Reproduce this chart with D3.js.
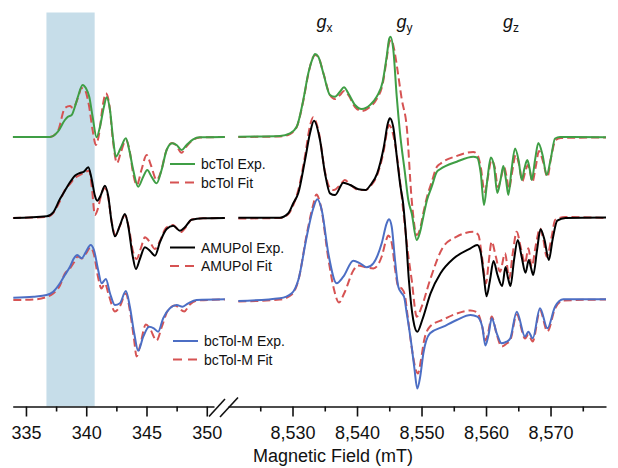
<!DOCTYPE html>
<html lang="en">
<head>
    <meta charset="UTF-8">
    <title>EPR spectra</title>
    <style>
        body { margin: 0; background: #fff; }
        svg text { font-family: Arial, 'Liberation Sans', sans-serif; fill: #111; }
    </style>
</head>
<body>

    <svg id="svg" width="618" height="468"></svg>

    <script src="https://d3js.org/d3.v7.min.js"></script>
    <script>
        // field (mT), intensity (a.u.) -- low field part (~340 mT)
        const greenExpL = [[333.92,0],[336.99,0],[337.65,5.3],[338.23,17],[338.48,20.3],[338.79,22],[339.06,30.3],[339.31,40.3],[339.70,52],[339.98,48.7],[340.25,40.3],[340.53,20.3],[340.86,-0.3],[341.14,10.3],[341.47,30.3],[341.69,39.7],[341.97,27],[342.24,-3],[342.46,-19.7],[342.85,-11.3],[343.29,-1.3],[343.57,-13],[343.90,-33],[344.31,-49.7],[344.73,-39.7],[345.06,-33],[345.42,-39.7],[345.84,-46.3],[346.25,-33],[346.67,-13],[347.13,-6.3],[347.50,-8],[347.91,-13],[348.33,-8],[348.87,-2.3],[349.43,-0.3],[351.5,0]]
        const greenFitL = [[333.92,0],[336.99,0],[337.65,6],[338.23,29],[338.65,31],[338.90,29],[339.31,39],[339.62,49],[339.89,47],[340.22,32],[340.53,7],[340.80,-8],[341.05,2],[341.38,32],[341.63,43.7],[341.92,32],[342.21,-3],[342.55,-26],[342.88,-15],[343.29,-3],[343.62,-15],[343.87,-35],[344.20,-48],[344.58,-33],[345.01,-18],[345.36,-28],[345.84,-43],[346.19,-35],[346.61,-15],[347.11,-6],[347.44,-8],[347.91,-15.7],[348.27,-10],[348.85,-3],[349.43,-0.5],[351.5,0]]
        const blackExpL = [[333.95,0],[336.72,1.7],[337.26,5.7],[337.82,19],[338.23,27.3],[338.65,35.7],[339.06,42.3],[339.48,45],[339.81,46.3],[340.17,50.7],[340.45,39],[340.72,22.3],[340.91,17.3],[341.19,22.3],[341.55,32.3],[341.82,22.3],[342.11,-4.3],[342.38,-18.3],[342.79,-7.7],[343.21,4],[343.48,-7.7],[343.85,-37.7],[344.12,-51],[344.45,-41],[344.87,-29.3],[345.28,-32.7],[345.70,-37.7],[346.11,-24.3],[346.67,-11],[347.21,-7.7],[347.77,-12.7],[348.18,-9.3],[348.74,-1.7],[349.70,-0.3],[351.5,0]]
        const blackFitL = [[333.92,0],[336.72,1],[337.26,5],[337.82,17],[338.23,28],[338.65,34],[339.06,40],[339.48,43],[339.89,46],[340.25,47.3],[340.47,30],[340.72,3],[340.93,8],[341.22,22],[341.51,30],[341.80,22],[342.13,-5],[342.42,-17],[342.79,-8],[343.21,3],[343.54,-10],[343.87,-33],[344.18,-41],[344.54,-30],[344.87,-19.3],[345.28,-24],[345.70,-31],[346.11,-23],[346.61,-10],[347.19,-7],[347.85,-14],[348.27,-9],[348.76,-1.5],[349.68,-0.3],[351.5,0]]
        const blueExpL = [[333.95,0.8],[335.61,1.8],[336.72,3.5],[337.26,6.8],[337.82,15.2],[338.23,23.5],[338.65,31.8],[338.98,40.2],[339.25,43.5],[339.62,40.2],[339.98,46.8],[340.36,53.5],[340.64,48.5],[340.99,28.5],[341.28,15.2],[341.63,19.5],[341.97,5.2],[342.38,-6.5],[342.79,-4.8],[343.29,7.5],[343.62,-8.2],[343.98,-34.8],[344.31,-52.2],[344.73,-38.2],[345.22,-28.2],[345.61,-29.8],[345.97,-33.2],[346.38,-19.8],[346.94,-9.8],[347.50,-6.5],[347.99,-8.2],[348.46,-4.8],[349.15,-1.5],[351.5,-0.8]]
        const blueFitL = [[333.95,-1.5],[335.61,-1],[336.72,1.5],[337.26,5],[337.82,13],[338.23,25],[338.65,30],[338.98,36],[339.31,42],[339.64,40],[339.98,45],[340.35,51],[340.64,44],[340.97,22],[341.26,10],[341.55,15],[341.88,3],[342.38,-13],[342.79,-8],[343.29,5],[343.62,-12],[343.96,-40],[344.18,-58],[344.45,-48],[344.95,-26],[345.28,-30],[345.84,-42],[346.28,-28],[346.77,-12],[347.35,-7],[348.13,-13],[348.60,-6],[349.26,-2],[351.5,-1]]

        // high field part (~8.5 T)
        const greenExpR = [[8521.6,0.3],[8528.06,1],[8529.61,3.7],[8530.65,10.3],[8531.67,37],[8532.45,63.7],[8533.13,78.7],[8533.49,83],[8534.00,80.3],[8534.78,63.7],[8535.81,42],[8536.59,40.3],[8537.36,45.3],[8537.98,49.7],[8538.65,43.7],[8539.69,32],[8540.73,28],[8542.02,32],[8543.05,40.3],[8543.98,55.3],[8544.60,80.3],[8545.01,98.7],[8545.22,100.3],[8545.63,87],[8546.16,40.3],[8546.67,3.7],[8547.44,-36.3],[8547.95,-63],[8548.48,-76.3],[8549.26,-103],[8549.77,-95],[8550.28,-79.7],[8550.85,-63],[8551.58,-49.7],[8552.36,-35],[8552.87,-32.3],[8555.46,-24.7],[8558.03,-19.7],[8558.60,-20.5],[8559.18,-36],[8559.69,-68],[8560.20,-43],[8560.73,-20.5],[8561.24,-29],[8561.75,-56],[8562.25,-43],[8562.68,-29],[8563.10,-43],[8563.46,-58],[8563.95,-33],[8564.50,-11.5],[8565.04,-23],[8565.54,-43],[8565.97,-31],[8566.40,-23],[8566.74,-31],[8567.09,-43],[8567.60,-23],[8568.11,-6],[8568.76,-18],[8569.41,-38],[8570.00,-23],[8570.70,-1.5],[8571.47,0],[8578.6,-0.3]]
        const greenFitR = [[8521.6,0],[8528.06,0.5],[8529.61,3],[8530.65,10],[8531.67,36],[8532.45,63],[8533.13,79],[8533.49,82],[8534.00,80],[8534.78,64],[8535.81,42],[8536.59,38],[8537.36,42],[8537.98,46],[8538.65,42],[8539.69,30],[8540.73,26],[8542.02,30],[8543.05,38],[8543.98,53],[8544.60,78],[8545.01,95],[8545.30,97],[8545.75,88],[8546.16,72],[8546.93,38],[8547.71,10],[8548.48,-63],[8549.26,-98],[8549.77,-92],[8550.28,-76],[8550.85,-60],[8551.58,-45],[8552.36,-30],[8552.87,-27],[8555.46,-19],[8558.03,-15],[8558.60,-17],[8559.18,-30],[8559.79,-55],[8560.30,-40],[8560.83,-23],[8561.34,-30],[8561.85,-50],[8562.35,-40],[8562.78,-30],[8563.20,-40],[8563.56,-52],[8564.05,-35],[8564.60,-18],[8565.14,-28],[8565.64,-44],[8566.07,-35],[8566.50,-28],[8566.84,-35],[8567.19,-45],[8567.70,-30],[8568.21,-14],[8568.86,-25],[8569.51,-40],[8570.10,-20],[8570.80,-3],[8571.6,-1],[8578.6,-0.5]]
        const blackExpR = [[8521.6,0.3],[8528.06,0.3],[8529.35,4.7],[8530.12,14.7],[8530.90,25],[8531.94,58],[8532.71,84.7],[8533.33,97.3],[8534.26,78],[8535.04,44.7],[8535.81,24.7],[8536.59,23],[8537.88,35.3],[8538.96,33],[8540.24,28.7],[8541.32,28],[8542.09,33],[8543.13,44.7],[8544.16,71.3],[8544.78,94.7],[8545.09,99.7],[8545.61,91.3],[8546.23,58],[8546.74,31.3],[8547.15,14.7],[8547.52,-12],[8548.04,-62],[8548.72,-102],[8549.34,-113.7],[8550.11,-102],[8551.40,-75.3],[8552.95,-55.3],[8555.02,-40.3],[8557.60,-30.3],[8558.64,-27],[8559.15,-33.7],[8559.67,-58.7],[8560.08,-78.3],[8560.62,-62],[8561.16,-43],[8561.78,-57],[8562.51,-68],[8563.02,-49],[8563.41,-60],[8563.80,-68],[8564.34,-42],[8564.92,-22],[8565.50,-38],[8566.12,-54.7],[8566.63,-42],[8566.98,-50],[8567.32,-57],[8567.91,-32],[8568.45,-11.3],[8569.07,-22],[8569.74,-42],[8570.31,-22],[8571.04,-2.7],[8572.33,0],[8578.6,0.5]]
        const blackFitR = [[8521.6,-0.5],[8528.06,0],[8529.35,4],[8530.12,13],[8530.90,28],[8531.94,62],[8532.71,92],[8533.20,100.7],[8534.10,85],[8535.04,46],[8535.81,30],[8536.40,28],[8537.50,34],[8538.10,38],[8539.00,33],[8540.24,28],[8541.32,28],[8542.09,32],[8543.13,43],[8544.16,68],[8544.70,88],[8544.95,93],[8545.50,86],[8546.23,60],[8546.70,35],[8547.21,4.7],[8547.80,-30],[8548.48,-62],[8549.26,-98.7],[8550.03,-88.7],[8551.32,-62],[8553.38,-28.7],[8555.46,-18.7],[8558.03,-13.7],[8558.81,-17],[8559.40,-40],[8560.00,-65.3],[8560.40,-45],[8560.88,-23.7],[8561.50,-38],[8562.17,-53.7],[8562.95,-35.3],[8563.60,-60.3],[8564.15,-35],[8564.76,-13.7],[8565.40,-30],[8566.05,-45.3],[8566.56,-30.3],[8567.09,-48.7],[8567.70,-28],[8568.37,-10.3],[8568.90,-22],[8569.41,-38.7],[8570.23,-17],[8570.70,-2],[8572.26,1],[8578.6,0]]
        const blueExpR = [[8521.6,-2.5],[8528.06,0.2],[8529.88,5.2],[8530.90,18.5],[8532.20,61.8],[8533.22,90.2],[8533.84,99.2],[8534.53,88.5],[8535.55,45.2],[8536.85,15.2],[8537.88,21.8],[8539.43,37.8],[8540.47,35.2],[8541.50,31.2],[8542.53,35.2],[8543.83,55.2],[8544.60,75.2],[8544.96,79.2],[8545.38,71.8],[8545.89,38.5],[8546.40,11.8],[8546.93,5.2],[8547.29,1.8],[8547.71,-14.8],[8548.48,-48.2],[8548.90,-70],[8549.34,-90],[8549.80,-78],[8550.28,-55],[8551.32,-34.8],[8553.38,-28.2],[8555.46,-21.5],[8557.60,-16.5],[8558.64,-18.2],[8559.41,-28],[8559.90,-47],[8560.40,-36],[8560.88,-19.8],[8561.66,-34.8],[8562.43,-44.8],[8563.20,-43.2],[8563.75,-40],[8564.76,-13.2],[8566.05,-38.2],[8566.56,-33.2],[8567.24,-39.8],[8568.37,-9.8],[8569.52,-29.8],[8570.70,-8.2],[8571.99,-0.8],[8578.6,-0.8]]
        const blueFitR = [[8521.6,-3],[8528.06,-1],[8529.88,4],[8530.90,18],[8532.20,64],[8533.22,94],[8533.70,104],[8534.40,92],[8535.55,40],[8536.40,10],[8537.20,-4],[8538.00,5],[8539.43,28],[8540.10,33],[8541.50,31],[8542.53,30],[8543.83,42],[8544.50,58],[8544.85,63],[8545.40,55],[8545.89,30],[8546.40,12],[8546.93,10],[8547.40,4],[8547.80,-15],[8548.50,-50],[8549.15,-72],[8549.45,-75],[8549.90,-62],[8550.40,-42],[8551.32,-28],[8553.38,-21],[8555.46,-15],[8557.60,-12],[8558.64,-14],[8559.41,-28],[8559.90,-42],[8560.40,-32],[8560.88,-18],[8561.66,-36],[8562.43,-48],[8563.20,-45],[8563.75,-42],[8564.76,-16],[8566.05,-40],[8566.56,-36],[8567.24,-43],[8568.37,-12],[8569.52,-33],[8570.70,-10],[8571.99,-2],[8578.6,-1]]

        const sampleNames = ['bcTol', 'AMUPol', 'bcTol-M']
        const sampleOffsets = [269.5, 188.5, 108]   // vertical stacking (a.u.)
        const shadedField = [336.7, 340.7]
        const leftTicks = [335, 340, 345, 350]
        const leftMinor = [337.5, 342.5, 347.5]
        const rightTicks = [8530, 8540, 8550, 8560, 8570]
        const rightMinor = [8525, 8535, 8545, 8555, 8565, 8575]
        const gLabels = [['x', 8534.5], ['y', 8546.9], ['z', 8563.4]]

        const colors = ['#3f9e45', '#000000', '#4c6ec4']
        const fitColor = '#d65353'

        const svg = d3.select('#svg')

        // broken x axis: two scales
        const xLeft = d3.scaleLinear().domain([333.9, 350.6]).range([12.7, 214])
        const xRight = d3.scaleLinear().domain([8520, 8578.6]).range([228, 606])
        const y = d3.scaleLinear().domain([0, 394]).range([406.5, 12.5])

        // highlighted region
        svg.append('rect')
            .attr('x', xLeft(shadedField[0]))
            .attr('y', y(394))
            .attr('width', xLeft(shadedField[1]) - xLeft(shadedField[0]))
            .attr('height', y(0) - y(394))
            .attr('fill', '#c6dde9')

        const series = [
            { exp: greenExpL, fit: greenFitL, x: xLeft, i: 0 },
            { exp: greenExpR, fit: greenFitR, x: xRight, i: 0 },
            { exp: blackExpL, fit: blackFitL, x: xLeft, i: 1 },
            { exp: blackExpR, fit: blackFitR, x: xRight, i: 1 },
            { exp: blueExpL, fit: blueFitL, x: xLeft, i: 2 },
            { exp: blueExpR, fit: blueFitR, x: xRight, i: 2 }
        ]

        const lineFor = (xs, off) => d3.line()
            .x(d => xs(d[0]))
            .y(d => y(d[1] + off))
            .curve(d3.curveMonotoneX)

        // fits first, experimental traces on top
        series.forEach(s => {
            svg.append('path')
                .attr('d', lineFor(s.x, sampleOffsets[s.i])(s.fit))
                .attr('fill', 'none')
                .attr('stroke', fitColor)
                .attr('stroke-width', 2)
                .attr('stroke-dasharray', '8,4')
        })
        series.forEach(s => {
            svg.append('path')
                .attr('d', lineFor(s.x, sampleOffsets[s.i])(s.exp))
                .attr('fill', 'none')
                .attr('stroke', colors[s.i])
                .attr('stroke-width', 2)
                .attr('stroke-linejoin', 'round')
        })

        // axes
        const axisY = y(0)
        const fmt = d3.format(',')
        const drawAxis = (scale, major, minor) => {
            const g = svg.append('g').attr('transform', `translate(0,${axisY})`)
            g.call(d3.axisBottom(scale).tickValues(major).tickSize(10).tickSizeOuter(0)
                .tickPadding(10).tickFormat(fmt))
            g.append('g').call(d3.axisBottom(scale).tickValues(minor).tickSize(5).tickFormat(''))
                .select('.domain').remove()
            g.selectAll('path, line').attr('stroke', '#111').attr('stroke-width', 1.6)
            g.selectAll('text').style('font-size', '18px').attr('fill', '#111')
        }
        drawAxis(xLeft, leftTicks, leftMinor)
        drawAxis(xRight, rightTicks, rightMinor)

        // axis break marks
        svg.append('g')
            .selectAll('line')
            .data([[209, 416.5, 225, 399], [220, 417, 238, 397.5]])
            .enter()
            .append('line')
            .attr('x1', d => d[0]).attr('y1', d => d[1])
            .attr('x2', d => d[2]).attr('y2', d => d[3])
            .attr('stroke', '#111')
            .attr('stroke-width', 1.6)

        svg.append('text')
            .text('Magnetic Field (mT)')
            .attr('x', 333)
            .attr('y', 462)
            .attr('text-anchor', 'middle')
            .style('font-size', '18px')

        // g-tensor labels
        gLabels.forEach(([sub, f]) => {
            const t = svg.append('text')
                .attr('x', xRight(f) - 5)
                .attr('y', 28)
            t.append('tspan').text('g').style('font-style', 'italic').style('font-size', '18px')
            t.append('tspan').text(sub).attr('dy', 4).style('font-size', '12px')
        })

        // legends
        const legendPos = [[170, 164], [170, 247.5], [173, 341]]
        legendPos.forEach(([lx, ly], i) => {
            const g = svg.append('g')
            g.append('line')
                .attr('x1', lx).attr('x2', lx + 25)
                .attr('y1', ly).attr('y2', ly)
                .attr('stroke', colors[i]).attr('stroke-width', 2)
            g.append('line')
                .attr('x1', lx).attr('x2', lx + 25)
                .attr('y1', ly + 18.5).attr('y2', ly + 18.5)
                .attr('stroke', fitColor).attr('stroke-width', 2)
                .attr('stroke-dasharray', '9,6')
            g.append('text')
                .text(`${sampleNames[i]} Exp.`)
                .attr('x', lx + 31).attr('y', ly + 5)
                .style('font-size', '14px')
            g.append('text')
                .text(`${sampleNames[i]} Fit`)
                .attr('x', lx + 31).attr('y', ly + 23.5)
                .style('font-size', '14px')
        })
    </script>
</body>
</html>
